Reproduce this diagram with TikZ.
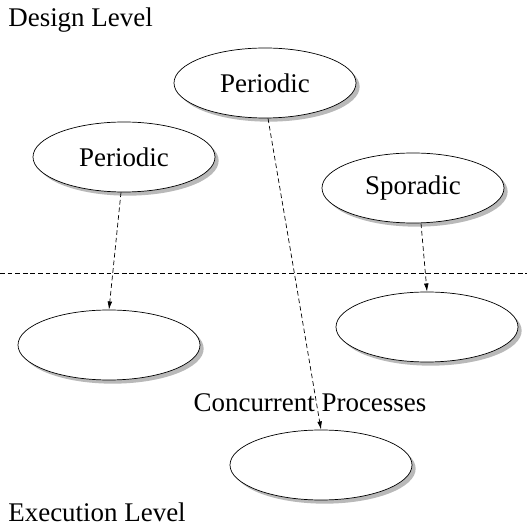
\documentclass[tikz,border=0pt]{standalone}
\usepackage{fontspec}
\setmainfont{Liberation Serif}
\usetikzlibrary{shapes.geometric,shadows,arrows.meta}
\begin{document}
\begin{tikzpicture}[font=\fontsize{23}{27}\selectfont, >={Latex[length=7pt,width=4pt]},
      line width=0.6pt,
      proc/.style={draw, ellipse, fill=white, inner sep=0pt, minimum width=5.46cm, minimum height=2.1cm,
        drop shadow={shadow xshift=0.11cm, shadow yshift=-0.11cm, fill=gray!55, opacity=1}},
      lnk/.style={->, dash pattern=on 4pt off 2.5pt},
      lbl/.style={anchor=base west, inner sep=0pt}]
    \useasboundingbox (0,0) rectangle (15.81,15.87);
    % design level
    \node[proc] (top) at (7.95,13.38) {Periodic};
    \node[proc] (lp) at (3.72,11.16) {Periodic};
    \node[proc] (sp) at (12.39,10.23) {Sporadic};
    % execution level
    \node[proc] (bl) at (3.27,5.52) {};
    \node[proc] (br) at (12.81,6.06) {};
    \node[proc] (bm) at (9.63,1.92) {};
    \node[lbl] (dl) at (0.24,15.06) {Design Level};
    \node[lbl] (el) at (0.24,0.21) {Execution Level};
    \node[anchor=base, inner sep=0pt] (cp) at (9.3,3.51) {Concurrent Processes};
    \coordinate (sl) at (0,7.68);
    \coordinate (sr) at (15.81,7.68);
    \draw[dash pattern=on 4pt off 2.5pt] (sl) -- (sr);
    \draw[lnk] ([xshift=-0.09cm]lp.south) -- (bl.north);
    \draw[lnk] ([xshift=0.09cm]top.south) -- (bm.north);
    \draw[lnk] ([xshift=0.24cm]sp.south) -- (br.north);
  \end{tikzpicture}
\end{document}
